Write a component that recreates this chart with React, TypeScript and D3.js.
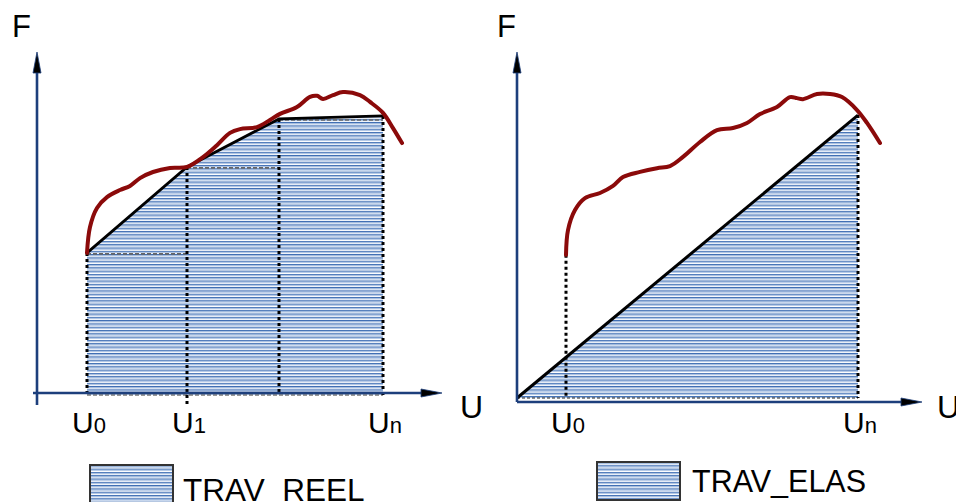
import React from 'react';
import * as d3 from 'd3';

// ---- Left panel (TRAV_REEL) data ----
const leftCurveU = [12.5, 13.25, 15, 17.5, 20.75, 23.25, 25.75, 29, 33.25, 37.5, 41.5, 45, 48.25, 50.75, 55, 58.25, 60.75, 65, 68.25, 70, 71.5, 74, 76.5, 80.75, 83.25, 86.5, 89, 91.25];
const leftCurveF = [41.2, 48.8, 54.4, 57.6, 59.7, 60.9, 63.2, 65, 66.2, 66.5, 69.4, 72.9, 76.5, 77.6, 78.2, 80.3, 82.1, 84.1, 87.1, 87.4, 86.5, 87.6, 88.5, 87.6, 85.6, 82.4, 77.9, 73.5];
const leftStepU = [12.5, 37.5, 60.5, 86.5];
const leftStepF = [41.2, 66.5, 80.6, 81.5];
const leftTickU = [12.5, 37.5, 86.5];
const leftTickSub = ['0', '1', 'n'];

// ---- Right panel (TRAV_ELAS) data ----
const rightCurveU = [12.25, 12.75, 14.5, 17, 20.75, 24, 26.5, 30.75, 35, 38.25, 41.5, 45.75, 50, 54, 57.5, 60.75, 65, 68.25, 70, 71.5, 75, 78.25, 81.25, 85, 87.5, 90.75];
const rightCurveF = [42.1, 49.4, 55.3, 58.8, 60.3, 62.4, 65, 66.5, 67.6, 68.2, 70.9, 75.3, 78.8, 79.4, 80.9, 83.5, 85.6, 88.5, 88.2, 87.9, 89.4, 89.4, 88.5, 84.7, 80.9, 75];
const rightElasU = [0, 85.25];
const rightElasF = [0, 83.2];
const rightTickU = [12.25, 85.25];
const rightTickSub = ['0', 'n'];

const legendLabels = ['TRAV_REEL', 'TRAV_ELAS'];

const FONT = "'Liberation Sans', Arial, sans-serif";
const RED = '#8b0a0a';
const AXIS = '#1d3f7c';

function Arrow({ x1, y1, x2, y2 }: { x1: number; y1: number; x2: number; y2: number }) {
  const ang = Math.atan2(y2 - y1, x2 - x1);
  const len = 21, hw = 4;
  const bx = x2 - len * Math.cos(ang), by = y2 - len * Math.sin(ang);
  const px = -Math.sin(ang) * hw, py = Math.cos(ang) * hw;
  return (
    <g>
      <line x1={x1} y1={y1} x2={bx} y2={by} stroke={AXIS} strokeWidth={2.6} />
      <path d={`M${x2},${y2}L${bx + px},${by + py}L${bx - px},${by - py}Z`} fill="#000" stroke={AXIS} strokeWidth={0.8} />
    </g>
  );
}

function TickLabel({ x, y, sub }: { x: number; y: number; sub: string }) {
  return (
    <text x={x} y={y} textAnchor="middle" fontFamily={FONT} fill="#000">
      <tspan fontSize={30}>U</tspan>
      <tspan fontSize={22}>{sub}</tspan>
    </text>
  );
}

export default function App() {
  const xL = d3.scaleLinear().domain([0, 100]).range([37, 437]);
  const yL = d3.scaleLinear().domain([0, 100]).range([393, 53]);
  const xR = d3.scaleLinear().domain([0, 100]).range([517, 917]);
  const yR = d3.scaleLinear().domain([0, 100]).range([398, 58]);

  const curveGen = (xs: d3.ScaleLinear<number, number>, ys: d3.ScaleLinear<number, number>) =>
    d3.line<[number, number]>().x(d => xs(d[0])).y(d => ys(d[1])).curve(d3.curveCatmullRom.alpha(0.5));

  const leftCurve = curveGen(xL, yL)(leftCurveU.map((u, i) => [u, leftCurveF[i]]))!;
  const rightCurve = curveGen(xR, yR)(rightCurveU.map((u, i) => [u, rightCurveF[i]]))!;

  const leftBottom = yL(0) + 2;
  const leftPts = leftStepU.map((u, i) => [xL(u), yL(leftStepF[i])]);
  const leftArea = `M${xL(leftStepU[0])},${leftBottom}` + leftPts.map(p => `L${p[0]},${p[1]}`).join('') + `L${xL(leftStepU[3])},${leftBottom}Z`;
  const leftPolyline = d3.line()(leftPts as [number, number][])!;

  const rBottom = yR(0);
  const rightPts = rightElasU.map((u, i) => [xR(u), yR(rightElasF[i])] as [number, number]);
  const rightArea = `M${rightPts[0][0]},${rBottom}L${rightPts[1][0]},${rightPts[1][1]}L${rightPts[1][0]},${rBottom}Z`;

  return (
    <svg width={956} height={502} style={{ position: 'absolute', left: 0, top: 0, background: '#fff' }}>
      <defs>
        <pattern id="stripes" patternUnits="userSpaceOnUse" width={6} height={3.3}>
          <rect x={0} y={0} width={6} height={3.3} fill="#ffffff" />
          <rect x={0} y={0} width={6} height={1.2} fill="#3e6db3" />
          <rect x={0} y={1.2} width={6} height={1} fill="#9db8df" />
        </pattern>
      </defs>

      {/* ---------- LEFT PANEL ---------- */}
      <path d={leftArea} fill="url(#stripes)" />
      {leftStepU.slice(0, 3).map((u, i) => (
        <line key={'lt' + i} x1={xL(u)} x2={xL(leftStepU[i + 1])} y1={yL(leftStepF[i]) + 1} y2={yL(leftStepF[i]) + 1}
          stroke="#666" strokeWidth={1.6} strokeDasharray="4 2" />
      ))}
      <line x1={xL(leftStepU[0])} x2={xL(leftStepU[3])} y1={leftBottom} y2={leftBottom} stroke="#777" strokeWidth={1.4} strokeDasharray="4 2" />
      {leftStepU.map((u, i) => (
        <line key={'lv' + i} x1={xL(u)} x2={xL(u)} y1={yL(leftStepF[i])} y2={i === 1 ? yL(0) + 12 : leftBottom}
          stroke="#000" strokeWidth={3} strokeDasharray="3 3" />
      ))}
      <path d={leftPolyline} fill="none" stroke="#000" strokeWidth={2.8} />
      <path d={leftCurve} fill="none" stroke={RED} strokeWidth={4} strokeLinecap="round" />
      <Arrow x1={xL(0)} y1={yL(0) + 12} x2={xL(0)} y2={52} />
      <Arrow x1={xL(0) - 4} y1={yL(0)} x2={442} y2={yL(0)} />
      <text x={12} y={37} fontFamily={FONT} fontSize={31}>F</text>
      <text x={460} y={418} fontFamily={FONT} fontSize={32}>U</text>
      {leftTickU.map((u, i) => (
        <TickLabel key={'ll' + i} x={xL(u) + 2} y={433} sub={leftTickSub[i]} />
      ))}

      {/* ---------- RIGHT PANEL ---------- */}
      <path d={rightArea} fill="url(#stripes)" />
      <line x1={rightPts[0][0]} x2={rightPts[1][0]} y1={rBottom} y2={rBottom} stroke="#222" strokeWidth={1.2} strokeDasharray="3 2" />
      <line x1={rightPts[1][0]} x2={rightPts[1][0]} y1={rightPts[1][1]} y2={rBottom} stroke="#000" strokeWidth={3} strokeDasharray="3 3" />
      <line x1={xR(rightTickU[0])} x2={xR(rightTickU[0])} y1={yR(rightCurveF[0])} y2={rBottom - 2} stroke="#000" strokeWidth={3} strokeDasharray="3 3" />
      <path d={d3.line()(rightPts)!} fill="none" stroke="#000" strokeWidth={3} />
      <path d={rightCurve} fill="none" stroke={RED} strokeWidth={4} strokeLinecap="round" />
      <Arrow x1={xR(0)} y1={yR(0) + 4} x2={xR(0)} y2={52} />
      <Arrow x1={xR(0)} y1={yR(0) + 4} x2={922} y2={yR(0) + 4} />
      <text x={497} y={37} fontFamily={FONT} fontSize={31}>F</text>
      <text x={937} y={418} fontFamily={FONT} fontSize={32}>U</text>
      {rightTickU.map((u, i) => (
        <TickLabel key={'rl' + i} x={xR(u) + 2} y={433} sub={rightTickSub[i]} />
      ))}

      {/* ---------- LEGENDS ---------- */}
      <rect x={90} y={465} width={83} height={40} fill="url(#stripes)" stroke="#333" strokeWidth={2} />
      <text x={183} y={501} fontFamily={FONT} fontSize={31.5}>{legendLabels[0]}</text>
      <rect x={597} y={462} width={83} height={38} fill="url(#stripes)" stroke="#333" strokeWidth={2} />
      <text x={692} y={492} fontFamily={FONT} fontSize={30.5}>{legendLabels[1]}</text>
    </svg>
  );
}
